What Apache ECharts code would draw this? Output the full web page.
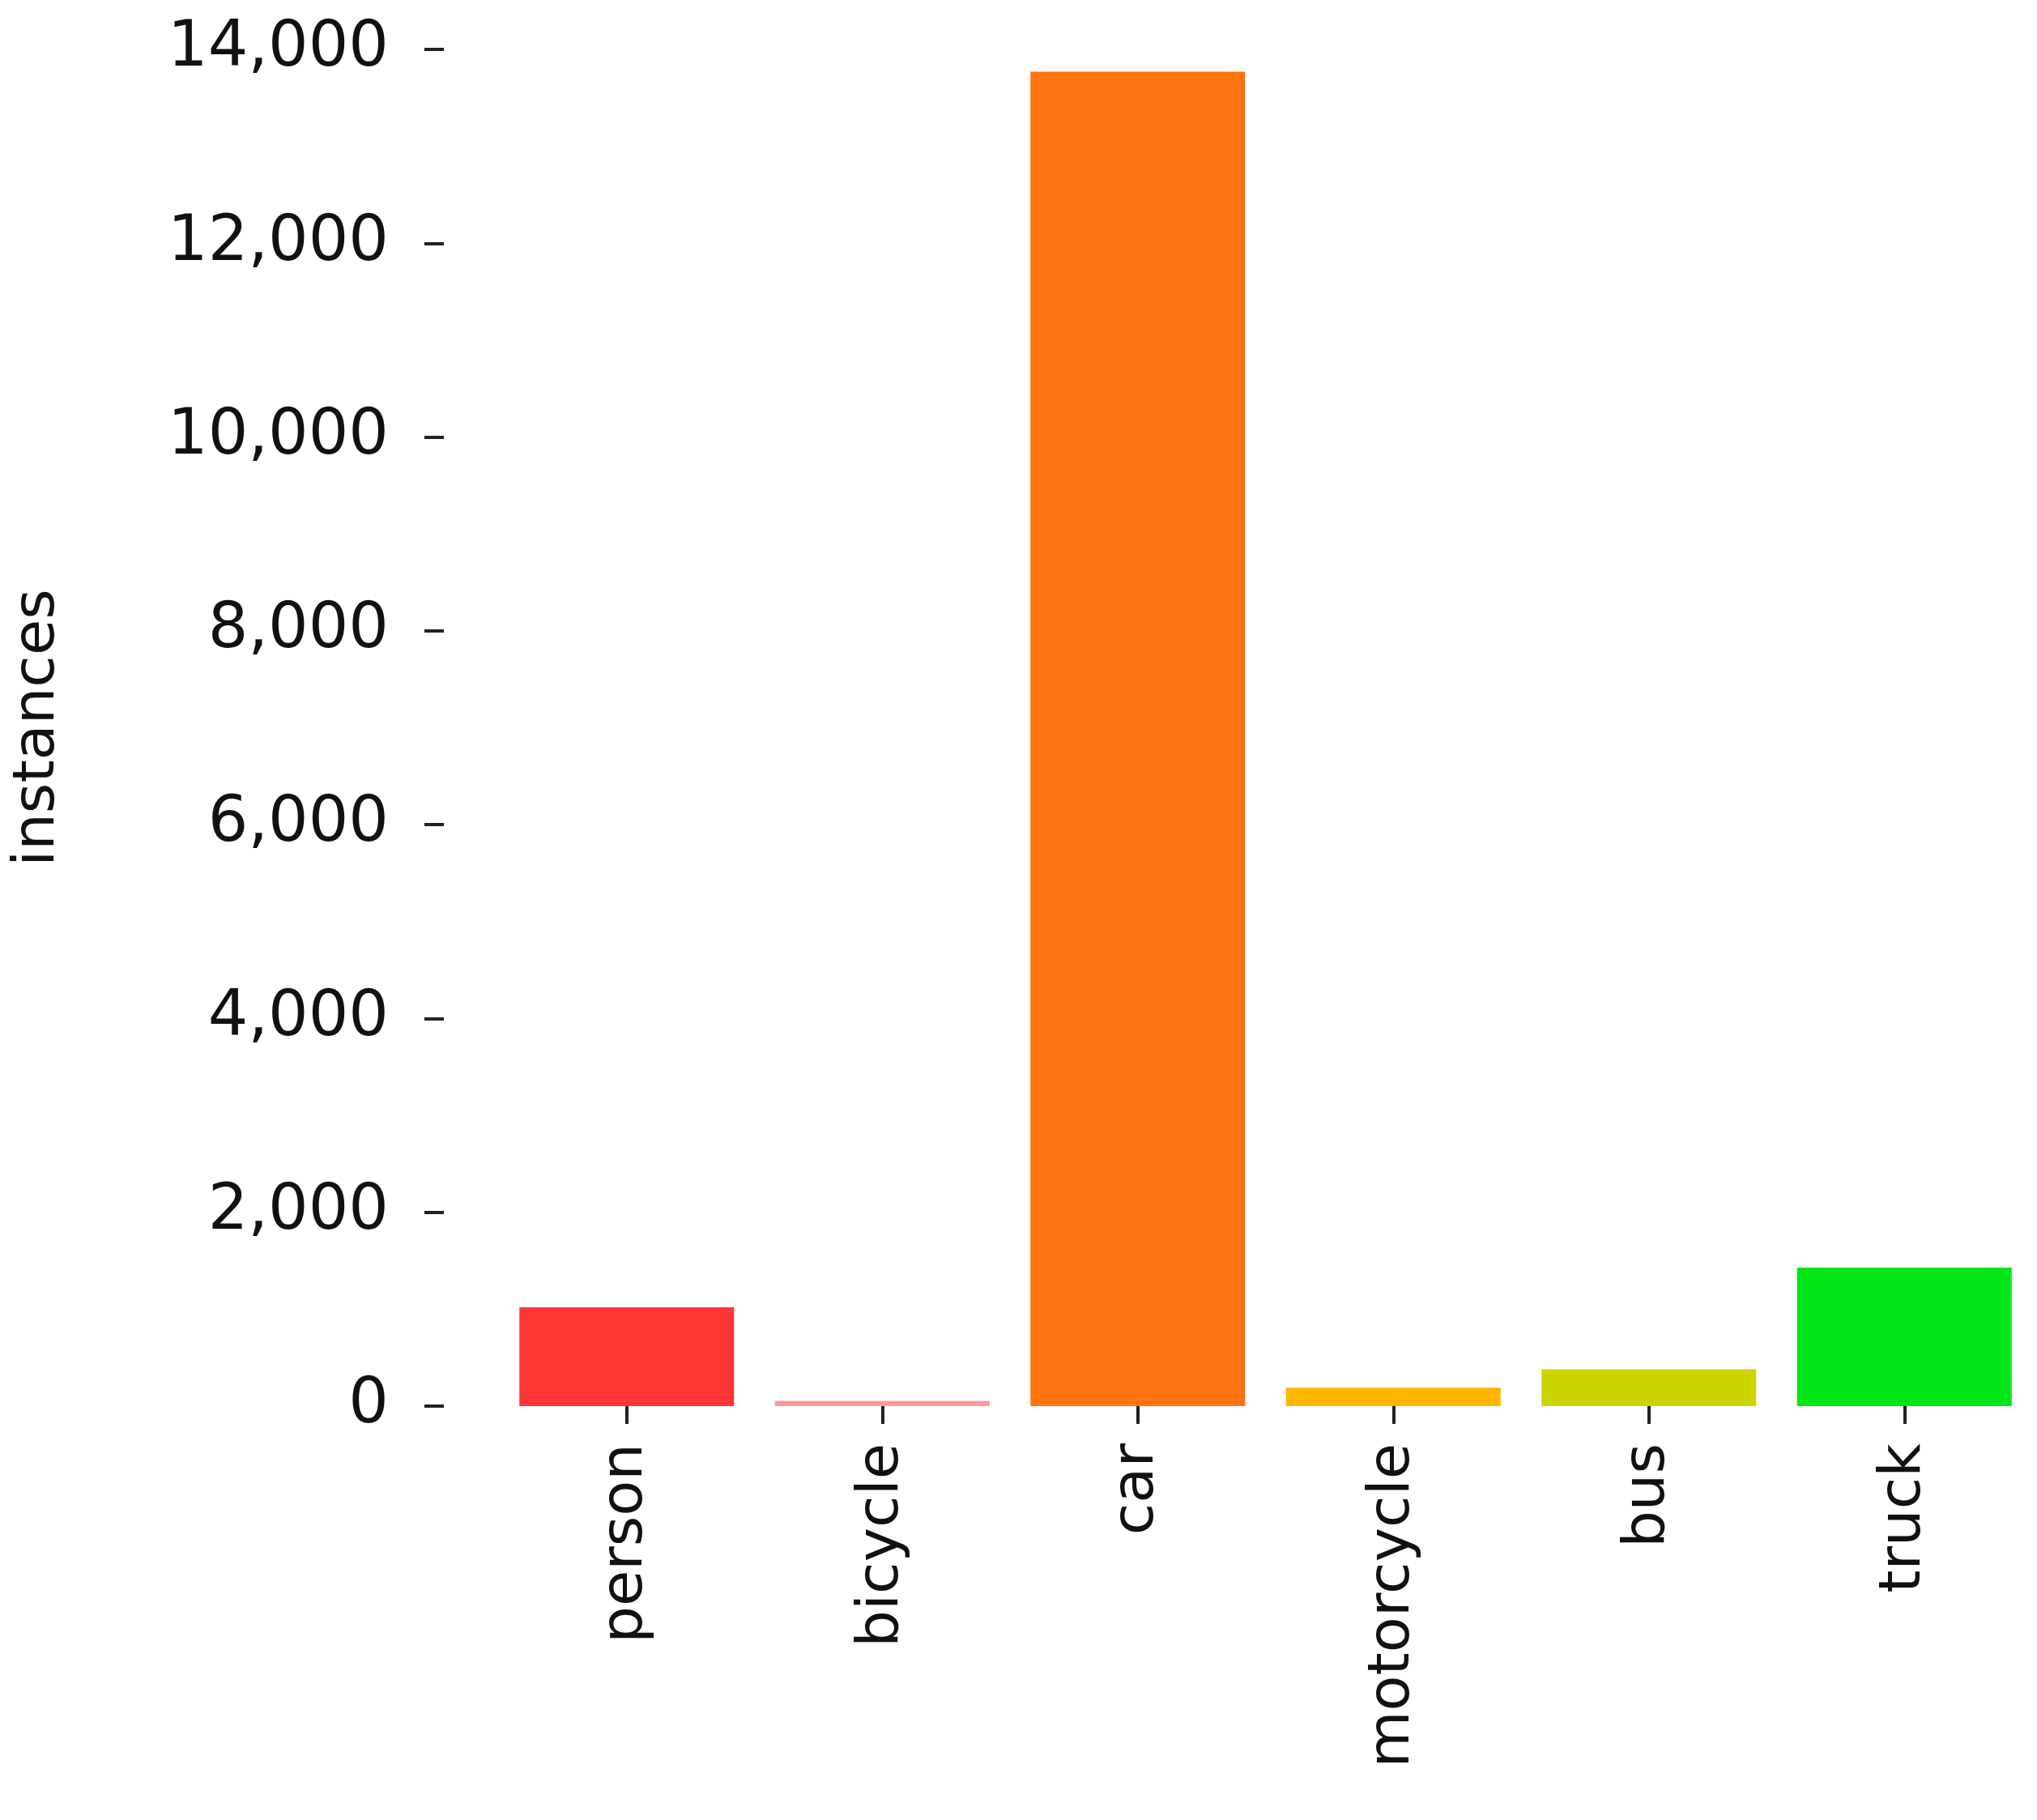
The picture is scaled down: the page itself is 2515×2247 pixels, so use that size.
<!DOCTYPE html>
<html>
<head>
<meta charset="utf-8">
<script src="https://cdn.jsdelivr.net/npm/echarts@6/dist/echarts.min.js"></script>
<style>html,body{margin:0;padding:0;background:#fff}#chart{width:2515px;height:2247px}</style>
</head>
<body>
<div id="chart"></div>
<script>
const categories = ['person', 'bicycle', 'car', 'motorcycle', 'bus', 'truck'];
const instances = [1020, 55, 13770, 190, 380, 1430];
const barColors = ['#ff3535', '#ff9a9a', '#ff7410', '#ffb400', '#ccd400', '#00e619'];

const chart = echarts.init(document.getElementById('chart'));
const font = 'DejaVu Sans';

chart.setOption({
    animation: false,
    grid: { left: 616, right: 6, top: 61, bottom: 511 },
    xAxis: {
        type: 'category',
        data: categories,
        offset: 6,
        axisLine: { show: false },
        axisTick: { show: true, alignWithLabel: true, length: 22, lineStyle: { color: '#222', width: 4 } },
        axisLabel: { rotate: 90, margin: 40, fontSize: 72, fontFamily: font, color: '#111' }
    },
    yAxis: {
        type: 'value',
        min: 0, max: 14000, interval: 2000,
        name: 'instances',
        nameLocation: 'middle',
        nameGap: 465,
        nameTextStyle: { fontSize: 72, fontFamily: font, color: '#111' },
        offset: 68,
        splitLine: { show: false },
        axisLine: { show: false },
        axisTick: { show: true, length: 24, lineStyle: { color: '#222', width: 4 } },
        axisLabel: { margin: 68, fontSize: 78, fontFamily: font, color: '#111' }
    },
    series: [{
        type: 'bar',
        barCategoryGap: '16%',
        data: instances.map((v, i) => ({ value: v, itemStyle: { color: barColors[i] } }))
    }]
});
</script>
</body>
</html>
